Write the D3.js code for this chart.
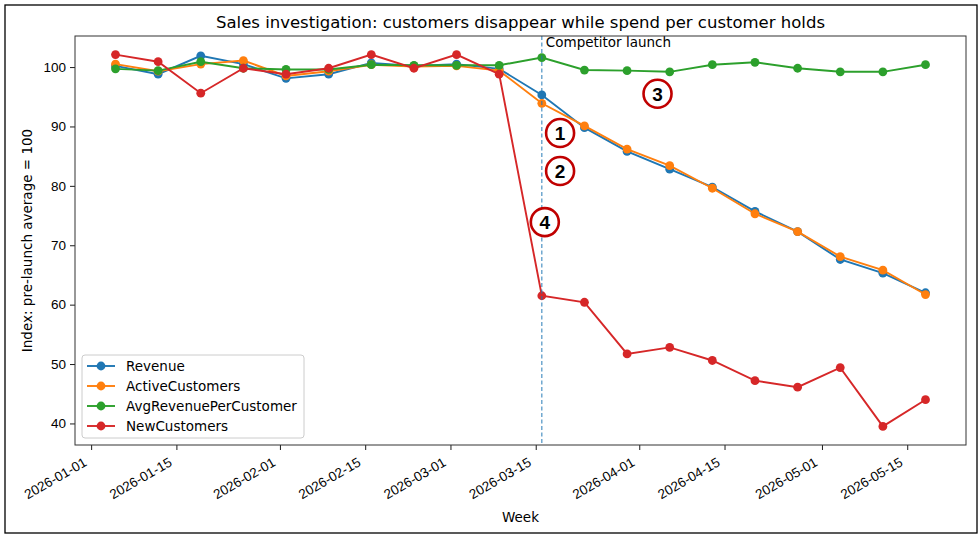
<!DOCTYPE html>
<html>
<head>
<meta charset="utf-8">
<script src="https://cdn.jsdelivr.net/npm/d3@7"></script>
<style>
  body { margin: 0; background: #fff; }
  svg { font-family: "DejaVu Sans", sans-serif; }
</style>
</head>
<body>
<svg id="chart" width="980" height="538"></svg>
<script>
// ----------------------------
// Data (index, pre-launch average = 100)
// ----------------------------
var weeks = ["2026-01-05", "2026-01-12", "2026-01-19", "2026-01-26", "2026-02-02",
             "2026-02-09", "2026-02-16", "2026-02-23", "2026-03-02", "2026-03-09",
             "2026-03-16", "2026-03-23", "2026-03-30", "2026-04-06", "2026-04-13",
             "2026-04-20", "2026-04-27", "2026-05-04", "2026-05-11", "2026-05-18"];

var revenue = [100.2, 98.8, 101.9, 100.5, 98.1, 98.8, 100.7, 100.2, 100.5, 99.7,
               95.3, 89.8, 85.8, 82.8, 79.8, 75.7, 72.3, 67.6, 65.3, 62.0];
var activeCustomers = [100.5, 99.3, 100.5, 101.1, 98.5, 99.3, 100.4, 100.1, 100.2, 99.4,
                       93.9, 90.1, 86.2, 83.4, 79.6, 75.3, 72.3, 68.1, 65.8, 61.7];
var avgRevenuePerCustomer = [99.7, 99.4, 100.9, 99.8, 99.6, 99.6, 100.4, 100.3, 100.3, 100.3,
                             101.6, 99.5, 99.4, 99.2, 100.4, 100.8, 99.8, 99.2, 99.2, 100.4];
var newCustomers = [102.1, 100.9, 95.6, 99.8, 98.8, 99.8, 102.1, 99.8, 102.1, 98.8,
                    61.5, 60.4, 51.7, 52.8, 50.6, 47.2, 46.1, 49.4, 39.5, 44.0];

var seriesNames = ["Revenue", "ActiveCustomers", "AvgRevenuePerCustomer", "NewCustomers"];
var seriesColors = ["#1f77b4", "#ff7f0e", "#2ca02c", "#d62728"];
var launchDate = "2026-03-16";

var yTicks = [40, 50, 60, 70, 80, 90, 100];
var xTickDates = ["2026-01-01", "2026-01-15", "2026-02-01", "2026-02-15", "2026-03-01",
                  "2026-03-15", "2026-04-01", "2026-04-15", "2026-05-01", "2026-05-15"];

// numbered callouts: label, date, value
var calloutLabels = ["1", "2", "3", "4"];
var calloutDates = ["2026-03-19", "2026-03-19", "2026-04-04", "2026-03-16"];
var calloutValues = [88.9, 82.5, 95.5, 73.9];

// ----------------------------
// Layout
// ----------------------------
var svg = d3.select("#chart");
var mLeft = 75, mRight = 966, mTop = 36, mBottom = 445;
var parse = d3.utcParse("%Y-%m-%d");

var dates = weeks.map(parse);
var allSeries = [revenue, activeCustomers, avgRevenuePerCustomer, newCustomers];

// matplotlib-style 5% margins
var t0 = d3.min(dates), t1 = d3.max(dates);
var tPad = (t1 - t0) * 0.05;
var x = d3.scaleUtc()
    .domain([new Date(+t0 - tPad), new Date(+t1 + tPad)])
    .range([mLeft, mRight]);

var allVals = d3.merge(allSeries);
var vMin = d3.min(allVals), vMax = d3.max(allVals);
var vPad = (vMax - vMin) * 0.05;
var y = d3.scaleLinear()
    .domain([vMin - vPad, vMax + vPad])
    .range([mBottom, mTop]);

// outer border
svg.append("rect")
    .attr("x", 5).attr("y", 5).attr("width", 972).attr("height", 528)
    .attr("fill", "none").attr("stroke", "#000").attr("stroke-width", 1.3);

// title
svg.append("text")
    .attr("x", (mLeft + mRight) / 2).attr("y", 28)
    .attr("text-anchor", "middle")
    .attr("font-size", 16.5)
    .text("Sales investigation: customers disappear while spend per customer holds");

// ----------------------------
// Axes
// ----------------------------
var xAxis = d3.axisBottom(x)
    .tickValues(xTickDates.map(parse))
    .tickFormat(d3.utcFormat("%Y-%m-%d"))
    .tickSize(5).tickPadding(4);

var gx = svg.append("g")
    .attr("transform", "translate(0," + mBottom + ")")
    .call(xAxis);
gx.select(".domain").remove();
gx.selectAll("text")
    .attr("font-size", 13.5)
    .attr("fill", "#000")
    .attr("text-anchor", "end")
    .attr("y", 0)
    .attr("dy", 0)
    .attr("transform", "translate(-4,20) rotate(-30)");
gx.selectAll("line").attr("stroke", "#000").attr("stroke-width", 0.9);

var yAxis = d3.axisLeft(y).tickValues(yTicks).tickSize(5).tickPadding(4);
var gy = svg.append("g")
    .attr("transform", "translate(" + mLeft + ",0)")
    .call(yAxis);
gy.select(".domain").remove();
gy.selectAll("text").attr("font-size", 13.5).attr("fill", "#000");
gy.selectAll("line").attr("stroke", "#000").attr("stroke-width", 0.9);

// axis labels
svg.append("text")
    .attr("x", (mLeft + mRight) / 2).attr("y", 522)
    .attr("text-anchor", "middle").attr("font-size", 13.5)
    .text("Week");

svg.append("text")
    .attr("transform", "translate(32," + ((mTop + mBottom) / 2) + ") rotate(-90)")
    .attr("text-anchor", "middle").attr("font-size", 13.5)
    .text("Index: pre-launch average = 100");

// ----------------------------
// Lines
// ----------------------------
var line = d3.line()
    .x(function (d, i) { return x(dates[i]); })
    .y(function (d) { return y(d); });

allSeries.forEach(function (vals, s) {
    var g = svg.append("g");
    g.append("path")
        .attr("d", line(vals))
        .attr("fill", "none")
        .attr("stroke", seriesColors[s])
        .attr("stroke-width", 1.9);
    g.selectAll("circle")
        .data(vals)
        .enter().append("circle")
        .attr("cx", function (d, i) { return x(dates[i]); })
        .attr("cy", function (d) { return y(d); })
        .attr("r", 4.4)
        .attr("fill", seriesColors[s]);
});

// launch marker
var lx = x(parse(launchDate));
svg.append("line")
    .attr("x1", lx).attr("x2", lx).attr("y1", mTop).attr("y2", mBottom)
    .attr("stroke", "#1f77b4").attr("stroke-opacity", 0.8)
    .attr("stroke-width", 1.2).attr("stroke-dasharray", "4,2.5");
svg.append("text")
    .attr("x", lx + 4).attr("y", mTop + 11)
    .attr("font-size", 13.5)
    .text("Competitor launch");

// frame
svg.append("rect")
    .attr("x", mLeft).attr("y", mTop)
    .attr("width", mRight - mLeft).attr("height", mBottom - mTop)
    .attr("fill", "none").attr("stroke", "#333").attr("stroke-width", 1);

// ----------------------------
// Legend
// ----------------------------
var leg = svg.append("g").attr("transform", "translate(82,355)");
leg.append("rect")
    .attr("width", 222).attr("height", 83).attr("rx", 3)
    .attr("fill", "#fff").attr("fill-opacity", 0.8)
    .attr("stroke", "#ccc");
seriesNames.forEach(function (name, i) {
    var yy = 11 + i * 20;
    leg.append("line")
        .attr("x1", 5).attr("x2", 33).attr("y1", yy).attr("y2", yy)
        .attr("stroke", seriesColors[i]).attr("stroke-width", 1.9);
    leg.append("circle")
        .attr("cx", 19).attr("cy", yy).attr("r", 4.4)
        .attr("fill", seriesColors[i]);
    leg.append("text")
        .attr("x", 44).attr("y", yy).attr("dy", "0.35em")
        .attr("font-size", 13.5)
        .text(name);
});

// ----------------------------
// Numbered callouts
// ----------------------------
calloutLabels.forEach(function (label, i) {
    var cx = x(parse(calloutDates[i])) + (i === 3 ? 3 : 0);
    var cy = y(calloutValues[i]);
    svg.append("circle")
        .attr("cx", cx).attr("cy", cy).attr("r", 14)
        .attr("fill", "#fff").attr("stroke", "#c00000").attr("stroke-width", 2.6);
    svg.append("text")
        .attr("x", cx).attr("y", cy).attr("dy", "0.36em")
        .attr("text-anchor", "middle")
        .attr("font-size", 19).attr("font-weight", "bold")
        .attr("font-family", "Liberation Sans, Arial, sans-serif")
        .text(label);
});
</script>
</body>
</html>
